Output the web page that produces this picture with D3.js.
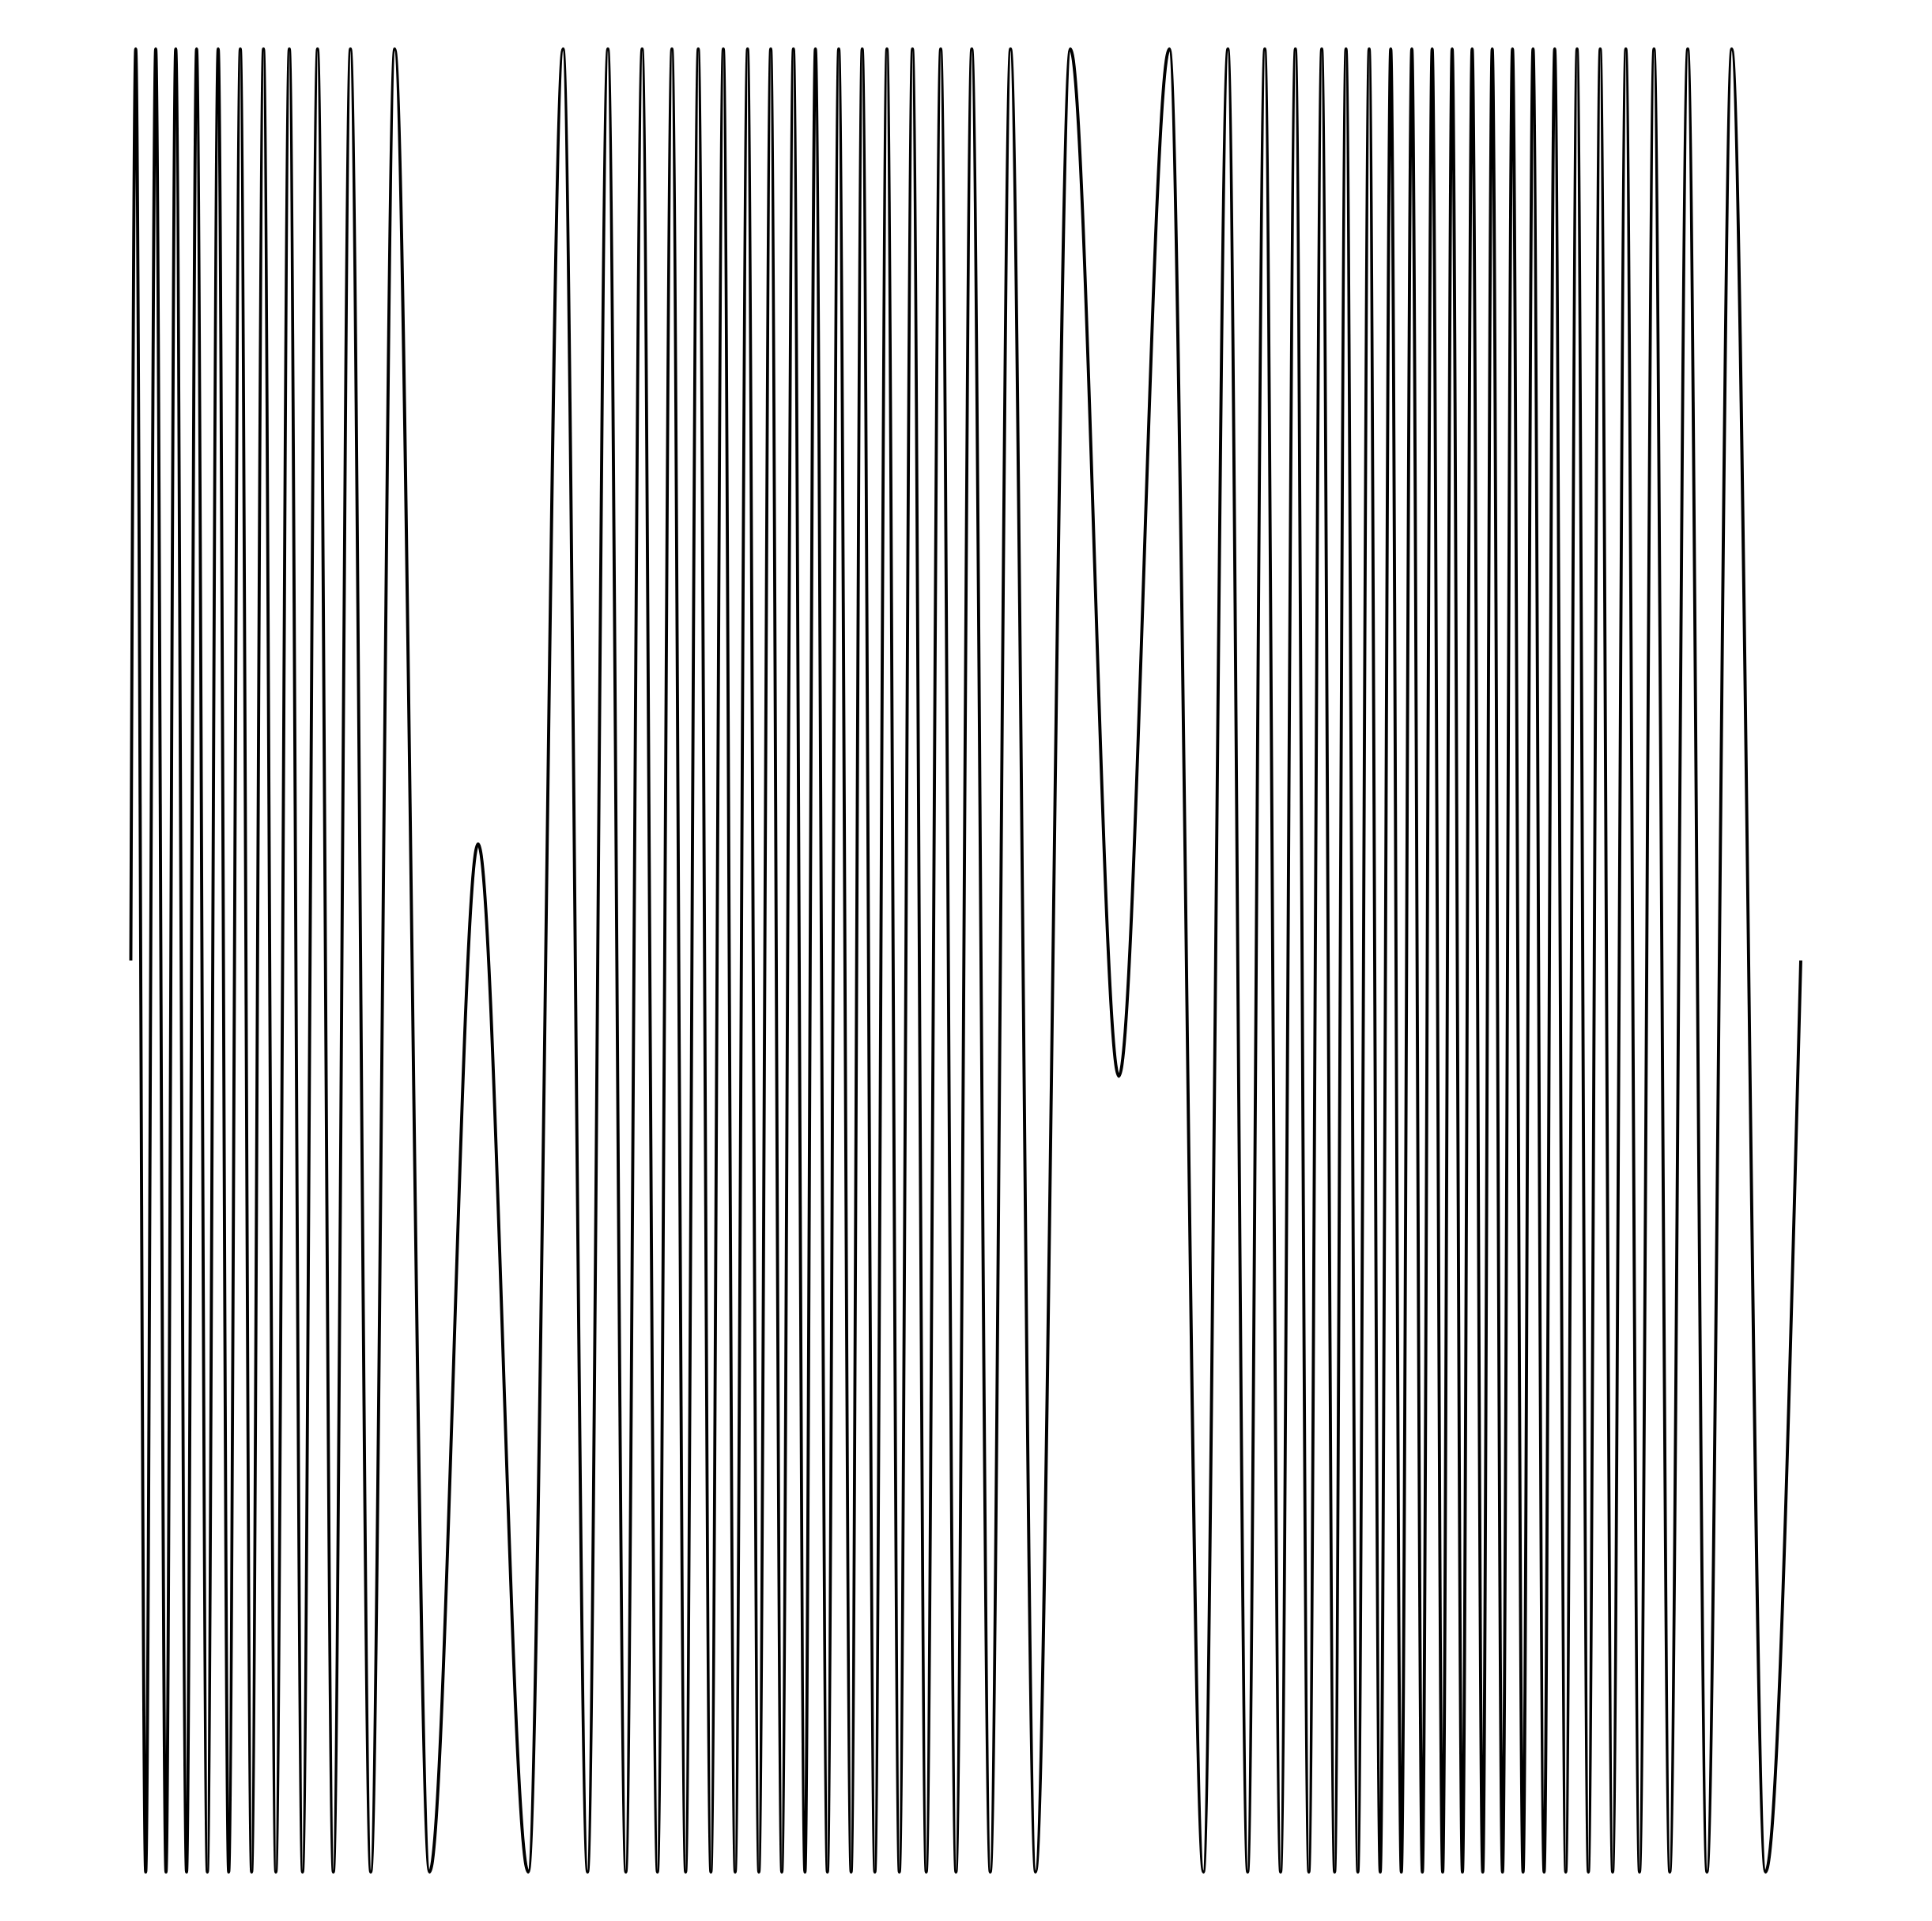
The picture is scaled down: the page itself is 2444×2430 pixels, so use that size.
<!DOCTYPE html>
<html>
<head>
<meta charset="utf-8">
<script src="https://cdn.jsdelivr.net/npm/d3@7"></script>
<style>
html, body { margin: 0; padding: 0; background: #ffffff; }
svg { display: block; }
</style>
</head>
<body>
<script>
// Extrema and end points of the oscillating curve
const xValues = [
  0, 0.0293, 0.0890, 0.1491, 0.2107, 0.2689, 0.3337, 0.3938, 0.4582, 0.5231,
  0.5860, 0.6556, 0.7233, 0.7943, 0.8686, 0.9491, 1.0282, 1.1181, 1.2128, 1.3150,
  1.4367, 1.5801, 1.7884, 2.0795, 2.3801, 2.5884, 2.7351, 2.8568, 2.9642, 3.0618,
  3.1536, 3.2402, 3.3222, 3.3979, 3.4736, 3.5479, 3.6189, 3.6932, 3.7609, 3.8320,
  3.8982, 3.9678, 4.0369, 4.0994, 4.1714, 4.2391, 4.3134, 4.3797, 4.4554, 4.5278,
  4.6021, 4.6807, 4.7631, 4.8497, 4.9411, 5.0358, 5.1465, 5.2677, 5.4178, 5.6260,
  5.9163, 6.2192, 6.4228, 6.5695, 6.6878, 6.7905, 6.8852, 6.9737, 7.0542, 7.1314,
  7.2085, 7.2767, 7.3477, 7.4154, 7.4817, 7.5446, 7.6081, 7.6710, 7.7340, 7.7927,
  7.8556, 7.9124, 7.9740, 8.0322, 8.0956, 8.1524, 8.2140, 8.2736, 8.3370, 8.3967,
  8.4630, 8.5264, 8.5927, 8.6604, 8.7281, 8.7991, 8.8734, 8.9524, 9.0343, 9.1210,
  9.2156, 9.3231, 9.4381, 9.5867, 9.7885, 10
];
const yValues = [
  0, 1, -1, 1, -1, 1, -1, 1, -1, 1,
  -1, 1, -1, 1, -1, 1, -1, 1, -1, 1,
  -1, 1, -1, 0.128, -1, 1, -1, 1, -1, 1,
  -1, 1, -1, 1, -1, 1, -1, 1, -1, 1,
  -1, 1, -1, 1, -1, 1, -1, 1, -1, 1,
  -1, 1, -1, 1, -1, 1, -1, 1, -1, 1,
  -0.127, 1, -1, 1, -1, 1, -1, 1, -1, 1,
  -1, 1, -1, 1, -1, 1, -1, 1, -1, 1,
  -1, 1, -1, 1, -1, 1, -1, 1, -1, 1,
  -1, 1, -1, 1, -1, 1, -1, 1, -1, 1,
  -1, 1, -1, 1, -1, 0
];
const xDomain = [0, 10];
const yDomain = [-1, 1];

const W = 2444, H = 2430;
const margin = { left: 165.5, right: 2444 - 2278, top: 62, bottom: 2430 - 2368 };

const svg = d3.select("body").append("svg")
  .attr("width", W).attr("height", H);

svg.append("rect").attr("width", W).attr("height", H).attr("fill", "#ffffff");

const x = d3.scaleLinear().domain(xDomain).range([margin.left, W - margin.right]);
const y = d3.scaleLinear().domain(yDomain).range([H - margin.bottom, margin.top]);

const data = xValues.map((v, i) => [v, yValues[i]]);

const line = d3.line()
  .x(d => x(d[0]))
  .y(d => y(d[1]))
  .curve(d3.curveMonotoneX);

svg.append("path")
  .datum(data)
  .attr("d", line)
  .attr("fill", "none")
  .attr("stroke", "#000000")
  .attr("stroke-width", 3.9)
  .attr("stroke-linejoin", "round");
</script>
</body>
</html>
